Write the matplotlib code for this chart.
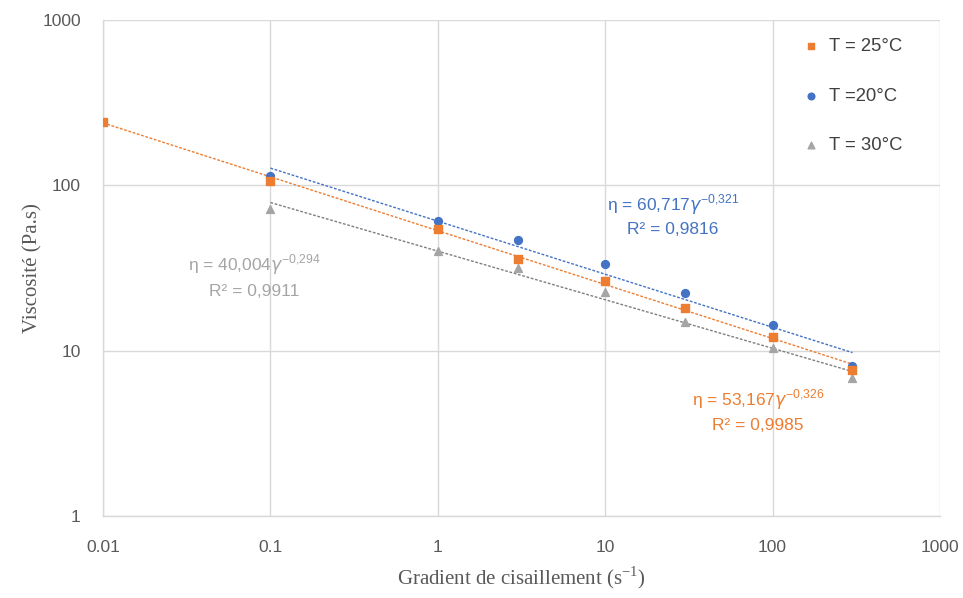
import matplotlib
matplotlib.use("Agg")
import matplotlib.pyplot as plt
import numpy as np

# Data
x25 = [0.01, 0.1, 1, 3, 10, 30, 100, 300]
y25 = [240, 106, 54.5, 36, 26.4, 18.1, 12.1, 7.6]
x20 = [0.1, 1, 3, 10, 30, 100, 300]
y20 = [114, 61, 46.7, 33.4, 22.3, 14.3, 8.1]
x30 = [0.1, 1, 3, 10, 30, 100, 300]
y30 = [72, 40, 31.6, 22.6, 14.9, 10.4, 6.8]

# Power-law trendline coefficients (as displayed)
fit25 = (53.167, -0.326, "0,9985", "53,167", "-0{,}326")
fit20 = (60.717, -0.321, "0,9816", "60,717", "-0{,}321")
fit30 = (40.004, -0.294, "0,9911", "40,004", "-0{,}294")

labels = ["T = 25°C", "T =20°C", "T = 30°C"]
xticks = [0.01, 0.1, 1, 10, 100, 1000]
xticklabels = ["0.01", "0.1", "1", "10", "100", "1000"]
yticks = [1, 10, 100, 1000]
yticklabels = ["1", "10", "100", "1000"]

c25, c20, c30 = "#ED7D31", "#4472C4", "#A5A5A5"
tick_color = "#595959"

fig = plt.figure(figsize=(9.63, 5.98), dpi=100)
ax = fig.add_axes([103/963, 1-516/598, (940-103)/963, (516-20)/598])
ax.set_xscale("log")
ax.set_yscale("log")
ax.set_xlim(0.01, 1000)
ax.set_ylim(1, 1000)

def trend(xs, fit, color):
    a, b = fit[0], fit[1]
    xx = np.logspace(np.log10(min(xs)), np.log10(max(xs)), 50)
    ax.plot(xx, a * xx**b, linestyle=(0, (2, 1.2)), color=color, lw=1.0, zorder=2)

trend(x20, fit20, c20)
trend(x30, fit30, "#7F7F7F")
trend(x25, fit25, c25)

h20 = ax.scatter(x20, y20, marker="o", s=32, color=c20, zorder=3, label=labels[1])
h30 = ax.scatter(x30, y30, marker="^", s=32, color=c30, zorder=3, label=labels[2])
h25 = ax.scatter(x25, y25, marker="s", s=30, color=c25, zorder=4, label=labels[0])

ax.set_xticks(xticks)
ax.set_xticklabels(xticklabels)
ax.set_yticks(yticks)
ax.set_yticklabels(yticklabels)
ax.minorticks_off()
ax.tick_params(axis="both", length=0, colors=tick_color, labelsize=12.5)
ax.tick_params(axis="x", pad=17)
ax.tick_params(axis="y", pad=16)
for lab in ax.get_xticklabels() + ax.get_yticklabels():
    lab.set_fontfamily("Liberation Sans")
ax.grid(True, which="major", color="#D9D9D9", lw=1)
for s in ax.spines.values():
    s.set_color("#D9D9D9")
    s.set_linewidth(1)
ax.spines["top"].set_visible(False)
ax.spines["right"].set_visible(False)

ax.set_xlabel("Gradient de cisaillement (s$^{\\mathregular{-1}}$)", fontfamily="Liberation Serif",
              fontsize=15, color=tick_color, labelpad=7)
ax.set_ylabel("Viscosité (Pa.s)", fontfamily="Liberation Serif", fontsize=15,
              color=tick_color, labelpad=0)

leg = fig.legend(handles=[h25, h20, h30], loc="upper left", frameon=False,
                 bbox_to_anchor=(802/963, 1-38/598), bbox_transform=fig.transFigure,
                 labelspacing=1.76, handletextpad=0.44, handlelength=1.0,
                 prop={"family": "Liberation Sans", "size": 13.3}, markerscale=0.85,
                 borderpad=0, borderaxespad=0)
for t in leg.get_texts():
    t.set_color("#404040")

def eqtext(cx, py1, py2, fit, color):
    t1 = "η = " + fit[3] + "$\\mathit{γ}^{\\mathregular{" + fit[4] + "}}$"
    t2 = "R² = " + fit[2]
    fig.text(cx/963, 1-py1/598, t1, ha="center", va="center", color=color,
             fontsize=12.5, fontfamily="Liberation Sans")
    fig.text(cx/963, 1-py2/598, t2, ha="center", va="center", color=color,
             fontsize=12.5, fontfamily="Liberation Sans")

eqtext(673, 205, 230, fit20, c20)
eqtext(758, 400, 426, fit25, c25)
eqtext(254, 265, 291, fit30, c30)

fig.savefig("out.png", dpi=100)
